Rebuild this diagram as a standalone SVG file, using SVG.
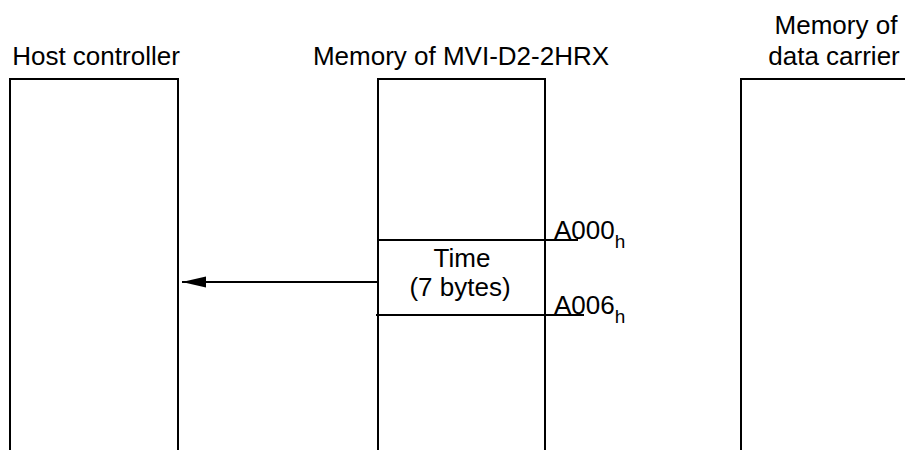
<svg xmlns="http://www.w3.org/2000/svg" width="905" height="450" viewBox="0 0 905 450">
<style>
  .lbl { font-family: "Liberation Sans", Arial, sans-serif; font-size: 26px; fill: #000; }
  .sub { font-family: "Liberation Sans", Arial, sans-serif; font-size: 19px; fill: #000; }
  .box { fill: none; stroke: #000; stroke-width: 2; }
  .ln { stroke: #000; stroke-width: 2; fill: none; }
</style>
<defs>
  <marker id="arr" markerWidth="24" markerHeight="12" refX="24" refY="6" orient="auto" markerUnits="userSpaceOnUse">
    <path d="M24,6 L0,0.5 L0,11.5 Z" fill="#000"/>
  </marker>
</defs>
<rect width="905" height="450" fill="#fff"/>
<g id="host">
  <polyline class="box" points="10,450 10,79 178,79 178,450"/>
  <text class="lbl" x="96" y="65" text-anchor="middle">Host controller</text>
</g>
<g id="mvi">
  <polyline class="box" points="378,450 378,79 545,79 545,450"/>
  <text class="lbl" x="461" y="65" text-anchor="middle">Memory of MVI-D2-2HRX</text>
  <text class="lbl" x="462" y="267" text-anchor="middle">Time</text>
  <text class="lbl" x="460" y="296" text-anchor="middle">(7 bytes)</text>
  <line class="ln" x1="378" y1="240" x2="578" y2="240"/>
  <line class="ln" x1="376" y1="315" x2="584" y2="315"/>
  <text class="lbl" x="554" y="239">A000<tspan class="sub" dy="9">h</tspan></text>
  <text class="lbl" x="554" y="314">A006<tspan class="sub" dy="9">h</tspan></text>
</g>
<g id="carrier">
  <polyline class="box" points="741,450 741,79 905,79"/>
  <text class="lbl" x="836" y="34" text-anchor="middle">Memory of</text>
  <text class="lbl" x="834" y="65" text-anchor="middle">data carrier</text>
</g>
<g id="connectors">
  <line class="ln" x1="378" y1="282" x2="182" y2="282" marker-end="url(#arr)"/>
</g>
</svg>
